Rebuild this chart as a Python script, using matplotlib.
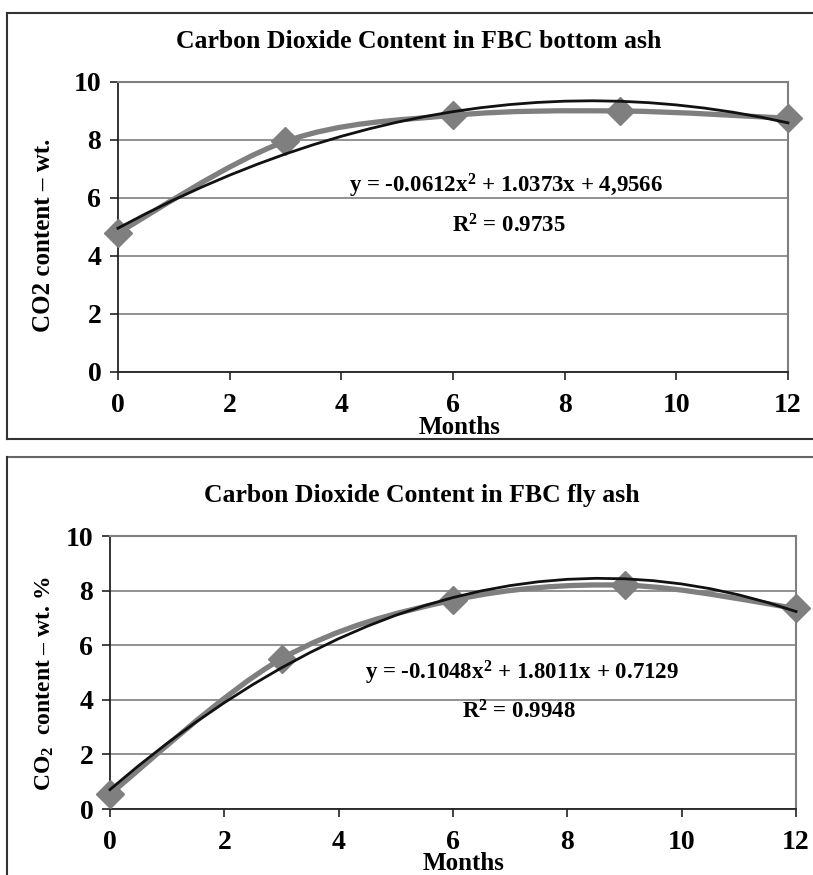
import matplotlib
matplotlib.use('Agg')
import matplotlib.pyplot as plt
from matplotlib.path import Path
from matplotlib.patches import PathPatch
from matplotlib.lines import Line2D
import numpy as np

# measured data (months vs CO2 content)
months = [0, 3, 6, 9, 12]
bottom_ash = [4.8, 7.95, 8.85, 9.0, 8.75]
fly_ash = [0.55, 5.5, 7.65, 8.2, 7.35]

# trendline coefficients as printed on the chart (a, b, c)
bottom_coef = [-0.0612, 1.0373, 4.9566]
fly_coef = [-0.1048, 1.8011, 0.7129]

bottom_eq = 'y = -0.0612x$^{2}$ + 1.0373x + 4,9566'
bottom_r2 = 'R$^{2}$ = 0.9735'
fly_eq = 'y = -0.1048x$^{2}$ + 1.8011x + 0.7129'
fly_r2 = 'R$^{2}$ = 0.9948'

xticks = [0, 2, 4, 6, 8, 10, 12]
yticks = [0, 2, 4, 6, 8, 10]

GRAY = '#7f7f7f'
FONT = 'Liberation Serif'

plt.rcParams['font.family'] = FONT
plt.rcParams['font.weight'] = 'bold'
plt.rcParams['mathtext.fontset'] = 'custom'
plt.rcParams['mathtext.rm'] = 'Liberation Serif:bold'
plt.rcParams['mathtext.it'] = 'Liberation Serif:bold'
plt.rcParams['mathtext.bf'] = 'Liberation Serif:bold'


def smooth_path(xs, ys):
    """Excel-like smoothed line: Catmull-Rom converted to cubic Bezier."""
    pts = list(zip(xs, ys))
    verts = [pts[0]]
    codes = [Path.MOVETO]
    n = len(pts)
    for i in range(n - 1):
        p0 = pts[i - 1] if i > 0 else pts[i]
        p1 = pts[i]
        p2 = pts[i + 1]
        p3 = pts[i + 2] if i + 2 < n else pts[i + 1]
        c1 = (p1[0] + (p2[0] - p0[0]) / 6, p1[1] + (p2[1] - p0[1]) / 6)
        c2 = (p2[0] - (p3[0] - p1[0]) / 6, p2[1] - (p3[1] - p1[1]) / 6)
        verts += [c1, c2, p2]
        codes += [Path.CURVE4] * 3
    return Path(verts, codes)


def draw_panel(ax, values, coef, eq, r2, eq_pos, r2_pos):
    ax.set_xlim(0, 12)
    ax.set_ylim(0, 10)
    ax.set_xticks(xticks)
    ax.set_yticks(yticks)
    ax.yaxis.grid(True, color=GRAY, lw=1.2)
    ax.set_axisbelow(True)
    for side in ['top', 'right']:
        ax.spines[side].set_color(GRAY)
        ax.spines[side].set_linewidth(1.5)
    for side in ['left', 'bottom']:
        ax.spines[side].set_color('#222222')
        ax.spines[side].set_linewidth(1.3)
    ax.tick_params(direction='out', length=6, width=1.2, color='#222222',
                   labelsize=20)
    ax.tick_params(axis='x', pad=9)
    ax.tick_params(axis='y', pad=6)

    patch = PathPatch(smooth_path(months, values), facecolor='none',
                      edgecolor=GRAY, lw=3.8, zorder=3, clip_on=False,
                      capstyle='round', joinstyle='round')
    ax.add_patch(patch)
    ax.plot(months, values, linestyle='none', marker='D', markersize=14,
            color=GRAY, zorder=4, clip_on=False)

    xs = np.linspace(0, 12, 25)
    ax.plot(xs, np.polyval(coef, xs), color='#111111', lw=2.0, zorder=5,
            clip_on=False)

    ax.text(eq_pos[0], eq_pos[1], eq, ha='center', va='center', fontsize=16.5)
    ax.text(r2_pos[0], r2_pos[1], r2, ha='center', va='center', fontsize=16.5)


fig = plt.figure(figsize=(8.13, 8.75), dpi=100)

ax1 = fig.add_axes([0.1451, 0.5749, 0.8241, 0.3314])
draw_panel(ax1, bottom_ash, bottom_coef, bottom_eq, bottom_r2,
           (6.95, 6.4), (7.0, 5.05))
ax2 = fig.add_axes([0.1353, 0.0754, 0.8438, 0.3120])
draw_panel(ax2, fly_ash, fly_coef, fly_eq, fly_r2,
           (7.2, 5.0), (7.15, 3.55))

fig.text(0.515, 0.952, 'Carbon Dioxide Content in FBC bottom ash',
         ha='center', va='center', fontsize=18.5)
fig.text(0.519, 0.434, 'Carbon Dioxide Content in FBC fly ash',
         ha='center', va='center', fontsize=18.5)
fig.text(0.565, 1 - 428 / 875, 'Months', ha='center', va='center',
         fontsize=18)
fig.text(0.57, 1 - 864 / 875, 'Months', ha='center', va='center',
         fontsize=18)
fig.text(0.054, 0.7314, 'CO2 content \u2013 wt.', ha='center', va='center',
         rotation=90, fontsize=18)
fig.text(0.055, 0.219, 'CO$_{2}$  content \u2013 wt. %', ha='center',
         va='center', rotation=90, fontsize=17)

# outer frames of both chart boxes (pixel coords -> figure fraction)
W, H = 813.0, 875.0


def frame_line(x0, y0, x1, y1, color='#333333'):
    fig.add_artist(Line2D([x0 / W, x1 / W], [1 - y0 / H, 1 - y1 / H],
                          color=color, lw=1.5, transform=fig.transFigure))


frame_line(7, 13, 813, 13)
frame_line(7, 13, 7, 439)
frame_line(7, 439, 813, 439)
frame_line(7, 457, 813, 457, color='#666666')
frame_line(7, 457, 7, 875)

fig.savefig('out.png', dpi=100)
